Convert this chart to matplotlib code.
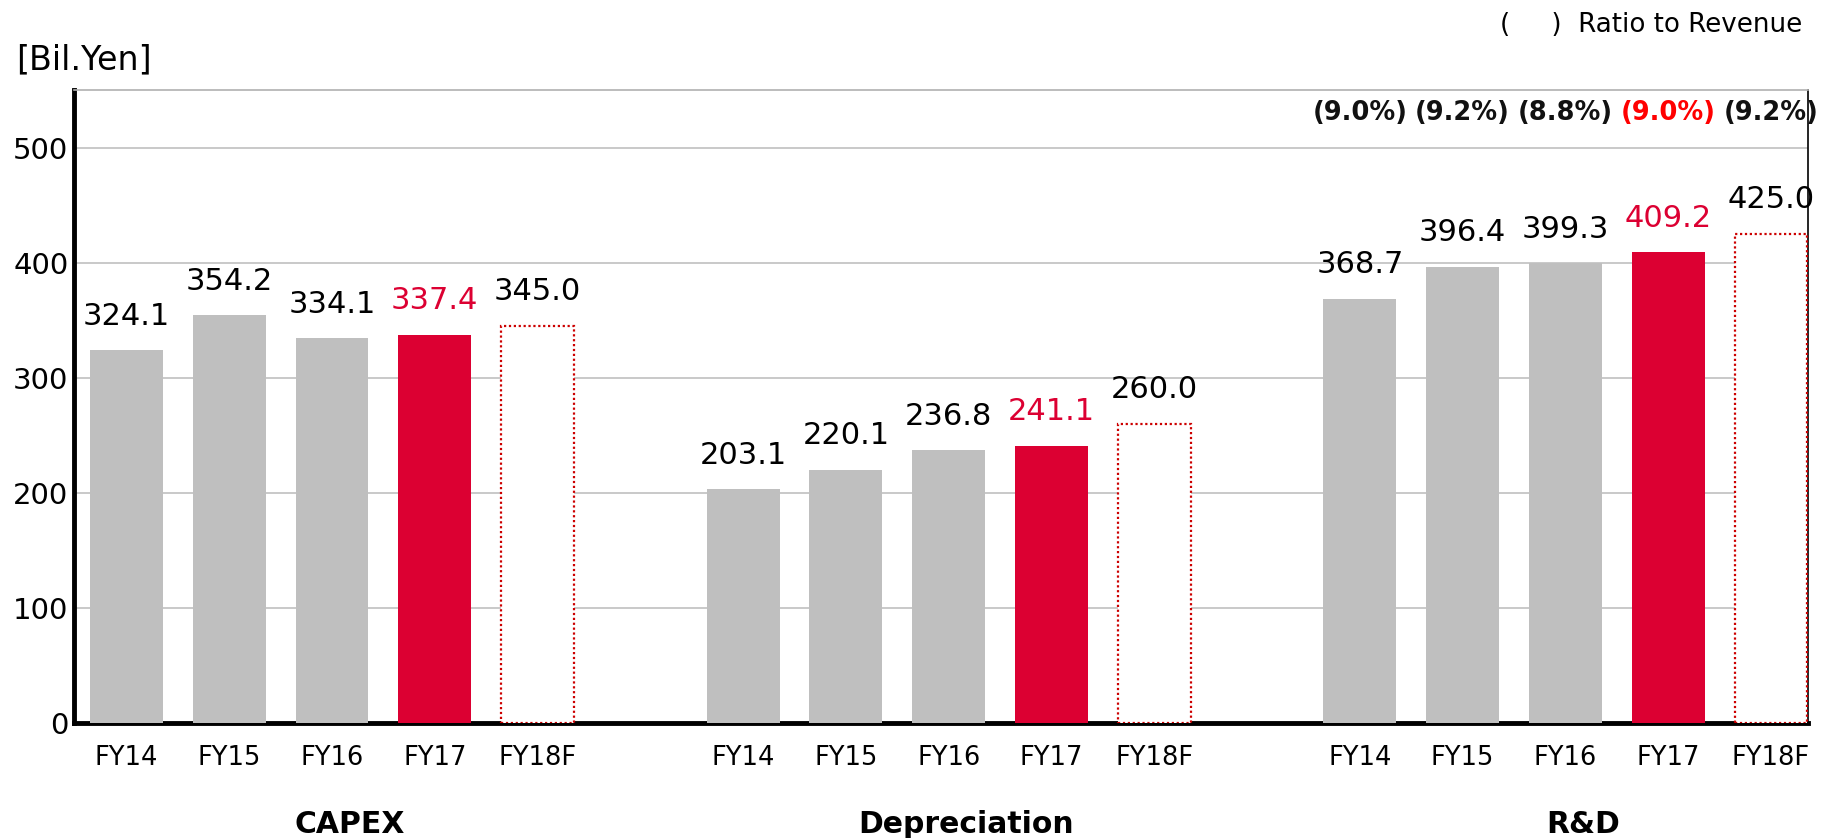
import numpy as np
import matplotlib
matplotlib.use("Agg")
import matplotlib.pyplot as plt
from matplotlib.transforms import blended_transform_factory

plt.rcParams["font.family"] = ["DejaVu Sans"]

# Values in billions of yen
groups = ["CAPEX", "Depreciation", "R&D"]
years = ["FY14", "FY15", "FY16", "FY17", "FY18F"]
capex = [324.1, 354.2, 334.1, 337.4, 345.0]
depreciation = [203.1, 220.1, 236.8, 241.1, 260.0]
rnd = [368.7, 396.4, 399.3, 409.2, 425.0]
rnd_ratio = [9.0, 9.2, 8.8, 9.0, 9.2]  # R&D as % of revenue

GREY = "#BFBFBF"
RED = "#DC0032"
BRIGHT_RED = "#FF0000"

fig = plt.figure(figsize=(18.34, 8.38), dpi=100)
ax = fig.add_axes([74 / 1834, 115 / 838, (1808 - 74) / 1834, (723 - 90) / 838])
below = blended_transform_factory(ax.transData, fig.transFigure)

width = 0.71
all_x = []
for g, values in enumerate([capex, depreciation, rnd]):
    x = np.arange(len(years)) + g * (len(years) + 1)
    all_x.extend(x)
    for i, (xi, v) in enumerate(zip(x, values)):
        if years[i] == "FY18F":
            ax.bar(xi, v, width, facecolor="white", edgecolor="#CC0000",
                   linestyle=(0, (1, 1.2)), linewidth=1.6, zorder=3)
        else:
            ax.bar(xi, v, width, color=RED if years[i] == "FY17" else GREY,
                   linewidth=0, zorder=3)
        ax.annotate(f"{v:.1f}", (xi, v), xytext=(0, 14), textcoords="offset points",
                    ha="center", va="bottom", fontsize=22,
                    color=RED if years[i] == "FY17" else "black")
    # ratio to revenue shown above the R&D bars
    if groups[g] == "R&D":
        for i, (xi, r) in enumerate(zip(x, rnd_ratio)):
            ax.text(xi, 530, f"({r:.1f}%)", ha="center", va="center",
                    fontsize=18.5, fontweight="bold",
                    color=BRIGHT_RED if years[i] == "FY17" else "#111111")
    ax.text(x.mean() + 0.17, 14 / 838, groups[g], transform=below,
            ha="center", va="center", fontsize=21.5, fontweight="bold")

ax.set_xlim(-0.51, 16.36)
ax.set_ylim(0, 550)
ax.set_xticks(all_x)
ax.set_xticklabels(years * len(groups), fontsize=18.5)
ax.set_yticks(range(0, 501, 100))
ax.set_yticklabels([str(t) for t in range(0, 501, 100)], fontsize=21)
ax.tick_params(axis="x", length=0, pad=16)
ax.tick_params(axis="y", length=0, pad=4)

ax.grid(axis="y", color="#C0C0C0", linewidth=1.2, zorder=0)
ax.set_axisbelow(True)

ax.spines["left"].set_linewidth(3.5)
ax.spines["bottom"].set_linewidth(3.5)
ax.spines["left"].set_color("black")
ax.spines["bottom"].set_color("black")
ax.spines["top"].set_color("#B0B0B0")
ax.spines["top"].set_linewidth(1.2)
ax.spines["right"].set_color("black")
ax.spines["right"].set_linewidth(1.2)

fig.text(16 / 1834, 1 - 60 / 838, "[Bil.Yen]", fontsize=24, va="center", ha="left")
fig.text(1802 / 1834, 1 - 25 / 838, "(     )  Ratio to Revenue", fontsize=18.8,
         va="center", ha="right")

fig.savefig("out.png", dpi=100)
